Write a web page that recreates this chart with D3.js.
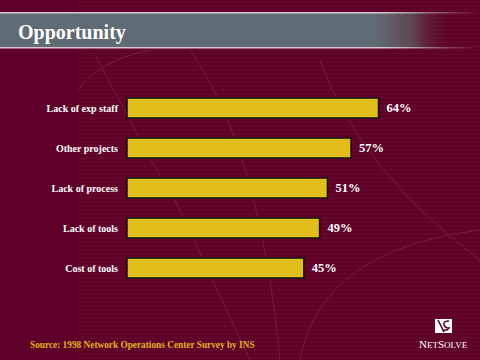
<!DOCTYPE html>
<html lang="en">
  <head>
    <meta charset="utf-8">
    <title>Opportunity</title>
    <script src="https://d3js.org/d3.v7.min.js"></script>
    <style>
      body { margin: 0; background: #5e0027; }
      svg { display: block; }
    </style>
  </head>

  <body>

  <script>

  // data
  var categories = ["Lack of exp staff", "Other projects", "Lack of process", "Lack of tools", "Cost of tools"];
  var values = [64, 57, 51, 49, 45];
  var valueLabels = ["64%", "57%", "51%", "49%", "45%"];

  var w = 480;
  var h = 360;
  var serif = "'Liberation Serif', 'DejaVu Serif', serif";

  var svg = d3.select("body")
    .append("svg")
      .attr("width", w)
      .attr("height", h);

  // background
  svg.append("rect")
      .attr("width", w)
      .attr("height", h)
      .attr("fill", "#5e0027");

  // faint stripes
  var stripes = svg.append("g").attr("opacity", 0.28);
  d3.range(2, h, 4).forEach(function(y) {
    stripes.append("line")
        .attr("x1", 78).attr("x2", w)
        .attr("y1", y).attr("y2", y)
        .attr("stroke", "#8a3a58")
        .attr("stroke-width", 0.8);
  });

  // decorative curves
  var deco = svg.append("g")
      .attr("fill", "none")
      .attr("stroke", "#7a2a4c")
      .attr("stroke-width", 1)
      .attr("opacity", 0.7);
  deco.append("path").attr("d", "M95,55 L135,130 Q150,160 175,200 L250,360");
  deco.append("path").attr("d", "M190,50 Q260,150 280,360");
  deco.append("path").attr("d", "M300,360 Q320,250 480,230");
  deco.append("path").attr("d", "M320,60 Q360,170 480,260");
  deco.append("path").attr("d", "M150,50 Q100,60 78,90");

  // title band
  var grad = svg.append("defs").append("linearGradient")
      .attr("id", "band")
      .attr("x1", "0").attr("x2", "1").attr("y1", "0").attr("y2", "0");
  grad.append("stop").attr("offset", "0.78").attr("stop-color", "#5f6c75").attr("stop-opacity", 1);
  grad.append("stop").attr("offset", "0.86").attr("stop-color", "#5e4552").attr("stop-opacity", 1);
  grad.append("stop").attr("offset", "0.95").attr("stop-color", "#5e0027").attr("stop-opacity", 0);

  svg.append("rect")
      .attr("x", 0).attr("y", 13)
      .attr("width", w).attr("height", 35)
      .attr("fill", "url(#band)");

  var lineGrad = svg.select("defs").append("linearGradient")
      .attr("id", "bandLine")
      .attr("x1", "0").attr("x2", "1").attr("y1", "0").attr("y2", "0");
  lineGrad.append("stop").attr("offset", "0.8").attr("stop-color", "#d8c8d0").attr("stop-opacity", 1);
  lineGrad.append("stop").attr("offset", "1").attr("stop-color", "#d8c8d0").attr("stop-opacity", 0);

  [13, 48].forEach(function(y) {
    svg.append("rect")
        .attr("x", 0).attr("y", y - 1)
        .attr("width", w).attr("height", 1.5)
        .attr("fill", "url(#bandLine)");
  });

  svg.append("text")
      .attr("x", 18)
      .attr("y", 39)
      .attr("fill", "#ffffff")
      .style("font-family", serif)
      .style("font-weight", "bold")
      .style("font-size", "20px")
      .text("Opportunity");

  // scales
  var xScale = d3.scaleLinear()
      .domain([0, 100])
      .range([127, 520]);

  var yScale = d3.scaleBand()
      .domain(categories)
      .range([88, 288])
      .paddingInner(0.5)
      .paddingOuter(0.25);

  var plot = svg.append("g").attr("id", "plot");

  plot.selectAll("rect.bar")
    .data(values)
    .enter().append("rect")
      .attr("class", "bar")
      .attr("x", xScale(0))
      .attr("y", (d, i) => yScale(categories[i]))
      .attr("width", d => xScale(d) - xScale(0))
      .attr("height", yScale.bandwidth())
      .attr("fill", "#e0bf1c")
      .attr("stroke", "#111")
      .attr("stroke-width", 1.5);

  plot.selectAll("text.cat")
    .data(categories)
    .enter().append("text")
      .attr("class", "cat")
      .attr("x", 118)
      .attr("y", d => yScale(d) + yScale.bandwidth() / 2)
      .attr("dy", "0.35em")
      .attr("text-anchor", "end")
      .attr("fill", "#ffffff")
      .style("font-family", serif)
      .style("font-weight", "bold")
      .style("font-size", "10px")
      .text(d => d);

  plot.selectAll("text.val")
    .data(values)
    .enter().append("text")
      .attr("class", "val")
      .attr("x", d => xScale(d) + 8)
      .attr("y", (d, i) => yScale(categories[i]) + yScale.bandwidth() / 2)
      .attr("dy", "0.3em")
      .attr("fill", "#ffffff")
      .style("font-family", serif)
      .style("font-weight", "bold")
      .style("font-size", "12.5px")
      .text((d, i) => valueLabels[i]);

  // source
  svg.append("text")
      .attr("x", 30)
      .attr("y", 348)
      .attr("fill", "#e0b020")
      .style("font-family", serif)
      .style("font-weight", "bold")
      .style("font-size", "9.3px")
      .text("Source: 1998 Network Operations Center Survey by INS");

  // logo
  var logo = svg.append("g").attr("transform", "translate(435,319)");
  logo.append("rect")
      .attr("width", 17).attr("height", 14)
      .attr("fill", "#ffffff");
  logo.append("path")
      .attr("d", "M3,1 L9,13 M14,2 Q8,2 9,6 Q10,9 14,9 Q12,12 7,11")
      .attr("fill", "none")
      .attr("stroke", "#5e0027")
      .attr("stroke-width", 1.6);

  var brand = svg.append("text")
      .attr("x", 419)
      .attr("y", 348)
      .attr("fill", "#ffffff")
      .style("font-family", serif)
      .style("font-size", "9px");
  brand.append("tspan").style("font-size", "11px").text("N");
  brand.append("tspan").text("ET");
  brand.append("tspan").style("font-size", "11px").text("S");
  brand.append("tspan").text("OLVE");

  </script>

  </body>

</html>
